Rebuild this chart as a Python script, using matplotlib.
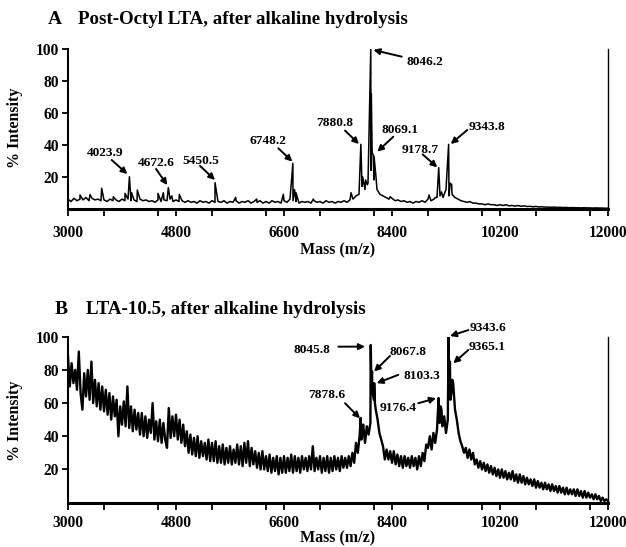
import numpy as np
import matplotlib
matplotlib.use('Agg')
import matplotlib.pyplot as plt
from matplotlib.ticker import MultipleLocator, FixedLocator

plt.rcParams['font.family'] = ['Liberation Serif', 'DejaVu Serif']
plt.rcParams['font.weight'] = 'bold'

# ---- panel A: baseline every 50 Da from 3000, plus peaks
a_start, a_step = 3000, 50
a_base = [
    6, 4.5, 6.5, 5, 6, 5.5, 7, 5, 6.5, 5.5, 6, 5, 5.5, 4.5, 6, 5, 5.5, 4.5, 6, 5,
    6, 5, 5.5, 4.5, 6, 5, 5.5, 4.5, 5, 4, 5.5, 4.5, 5.5, 5, 6, 4.5, 5.5, 4.5, 5, 4,
    5, 4, 4.5, 3.5, 5, 4, 4.5, 3.5, 5, 4, 4.5, 4, 5, 3.5, 4.5, 4, 5, 3.5, 4.5, 4,
    5, 3.5, 4.5, 4, 5, 3.5, 4.5, 3.5, 5, 4, 4.5, 3.5, 5, 4, 6, 5, 4.5, 3.5, 4.5, 4,
    4.5, 3.5, 5, 4, 4.5, 3.5, 5, 4, 4.5, 3.5, 4.5, 4, 5, 4, 5.5, 6, 8, 9, 14, 12,
    16, 24, 18, 12, 9, 8, 7, 6, 6.5, 5, 5.5, 4.5, 5, 4, 4.5, 3.5, 4.5, 4, 5, 4,
    6, 5, 6, 7, 8, 7, 12, 8, 9, 7, 6, 5, 4.5, 4, 4.5, 3.5, 3.5, 3, 3, 2.5,
    3, 2.5, 2.5, 2, 2.5, 2, 2.5, 1.8, 2, 1.6, 2, 1.5, 1.8, 1.4, 1.5, 1.2, 1.4, 1.1, 1.2, 1,
    1, 0.9, 1, 0.8, 0.9, 0.7, 0.8, 0.6, 0.7, 0.6, 0.6, 0.5, 0.6, 0.5, 0.5, 0.4, 0.5, 0.4, 0.4, 0.3,
    0.3,
]
a_pk_mass = [3200, 3367, 3561, 3755, 3950, 4023.9, 4060, 4155, 4500, 4589, 4672.6, 4730,
             4855, 5450.5, 5795, 6145, 6589, 6748.2, 6775, 6800, 7089, 7717, 7880.8,
             7910, 7960, 7990, 8046.2, 8055, 8069.1, 8085, 8100, 8133, 8370, 9017, 9120,
             9178.7, 9225, 9343.8, 9370, 9395, 9700]
a_pk_int = [8.6, 8.9, 12.8, 7.5, 9.6, 20, 10, 11.7, 9.6, 10, 13.2, 8,
            8.9, 16.3, 7.1, 6, 9, 28.4, 12, 10, 6, 10, 40.3,
            20, 18, 15, 100, 72, 35, 34, 33, 20, 7.5, 8.6, 7,
            25.7, 10.5, 40.3, 16, 15, 4.4]

# ---- panel B: baseline every 30 Da from 3000, plus peaks
b_start, b_step = 3000, 30
b_base = [
    88, 70, 84, 72, 80, 68, 91, 66, 56, 78, 64, 80, 62, 85, 60, 74, 58, 72, 56, 70,
    55, 68, 53, 66, 50, 64, 52, 62, 40, 58, 47, 61, 46, 70, 45, 58, 43, 56, 44, 54,
    41, 54, 40, 52, 39, 50, 42, 60, 38, 49, 37, 50, 36, 48, 38, 33, 57, 39, 52, 40,
    53, 38, 50, 36, 47, 34, 43, 30, 41, 29, 39, 28, 40, 27, 37, 28, 36, 26, 38, 25,
    36, 25, 37, 24, 34, 24, 35, 23, 33, 24, 34, 23, 32, 24, 35, 23, 34, 22, 36, 24,
    37, 22, 33, 23, 31, 21, 30, 20, 31, 20, 28, 19, 29, 18, 27, 19, 28, 17, 27, 18,
    28, 18, 27, 19, 29, 18, 28, 19, 27, 18, 28, 20, 27, 19, 28, 20, 34, 19, 27, 20,
    28, 18, 27, 19, 28, 18, 27, 19, 28, 20, 27, 19, 28, 21, 27, 21, 28, 22, 30, 24,
    36, 30, 40, 38, 47, 36, 46, 41, 48, 66, 62, 56, 50, 42, 38, 34, 26, 32, 26, 31,
    24, 31, 23, 29, 22, 28, 21, 28, 22, 27, 21, 28, 22, 27, 20, 28, 22, 30, 25, 35,
    33, 40, 32, 42, 36, 44, 50, 58, 46, 52, 42, 50, 75, 66, 72, 56, 50, 42, 37, 34,
    30, 33, 27, 32, 26, 30, 23, 26, 21, 25, 20, 24, 19, 23, 18, 22, 17, 21, 16, 20,
    15, 20, 15, 19, 14, 18, 14, 19, 13, 17, 12, 17, 12, 16, 11, 15, 11, 14, 10, 14,
    9, 13, 9, 12, 8, 12, 8, 11, 7, 11, 7, 10, 6, 10, 6, 9, 5, 9, 5, 8,
    5, 8, 4, 8, 4, 7, 3, 7, 3, 6, 3, 5, 2, 5, 2, 4, 1, 3, 1, 2,
    1,
]
b_pk_mass = [7878.6, 7905, 8045.8, 8055, 8067.8, 8085, 8103.3, 8115,
             9176.4, 9195, 9225, 9343.6, 9352, 9365.1, 9375, 9405]
b_pk_int = [51, 44, 95, 74, 79, 65, 72, 60,
            63, 48, 56, 100, 70, 85, 62, 74]

xticks_major = [3000, 4800, 6600, 8400, 10200, 12000]

# label, text centre, arrow tail, arrow head (data coords)
ann_a = [
    ("4023.9", (3617, 34.7), (3728, 30.5), (3989, 21.7)),
    ("4672.6", (4467, 28.8), (4467, 24.9), (4655, 14.8)),
    ("5450.5", (5211, 29.9), (5200, 26.8), (5450, 18.0)),
    ("6748.2", (6339, 42.6), (6506, 37.8), (6739, 29.5)),
    ("7880.8", (7450, 53.9), (7617, 48.9), (7850, 40.5)),
    ("8046.2", (8950, 91.7), (8562, 95.2), (8090, 99.4)),
    ("8069.1", (8533, 49.3), (8422, 45.1), (8155, 35.7)),
    ("9178.7", (8867, 36.8), (8911, 34.0), (9155, 25.9)),
    ("9343.8", (9978, 51.0), (9655, 49.3), (9378, 40.5)),
]
ann_b = [
    ("8045.8", (7061, 92.0), (7506, 94.0), (7950, 94.0)),
    ("8067.8", (8672, 91.0), (8367, 88.4), (8100, 79.0)),
    ("8103.3", (8895, 76.3), (8505, 77.0), (8145, 72.0)),
    ("7878.6", (7311, 64.9), (7617, 59.9), (7867, 50.8)),
    ("9176.4", (8505, 56.8), (8839, 59.9), (9133, 62.9)),
    ("9343.6", (10005, 105.0), (9672, 104.0), (9367, 100.4)),
    ("9365.1", (9989, 93.6), (9672, 92.0), (9422, 84.0)),
]


def spectrum(start, step, base, pk_mass, pk_int):
    m = np.concatenate([start + step * np.arange(len(base)), pk_mass])
    v = np.concatenate([base, pk_int])
    o = np.argsort(m, kind='stable')
    return m[o], v[o]


def style_axes(ax, pad):
    ax.set_xlim(3000, 12000)
    ax.set_ylim(0, 100)
    ax.xaxis.set_major_locator(FixedLocator(xticks_major))
    ax.xaxis.set_minor_locator(MultipleLocator(900))
    ax.set_yticks([20, 40, 60, 80, 100])
    ax.spines['top'].set_visible(False)
    ax.spines['bottom'].set_linewidth(2.2)
    ax.spines['left'].set_linewidth(1.5)
    ax.spines['right'].set_linewidth(1.0)
    ax.tick_params(axis='x', which='both', direction='out', length=5, width=1.3,
                   labelsize=11.2, pad=pad)
    ax.tick_params(axis='y', direction='out', length=4.5, width=1.3, labelsize=11.2, pad=2)
    ax.tick_params(axis='y', which='minor', left=False)
    for lab in ax.get_xticklabels() + ax.get_yticklabels():
        lab.set_fontweight('bold')


def annotate(ax, items):
    for label, txt, tail, head in items:
        ax.text(txt[0], txt[1], label, ha='center', va='center', fontsize=9.6,
                fontweight='bold', clip_on=False)
        ax.annotate('', xy=head, xytext=tail, annotation_clip=False,
                    arrowprops=dict(arrowstyle='-|>', color='k', lw=1.4,
                                    mutation_scale=9, shrinkA=0, shrinkB=0))


fig = plt.figure(figsize=(6.26, 5.47), dpi=100)
W, H = 626, 547
axA = fig.add_axes([68 / W, (H - 208.7) / H, 540 / W, 159.7 / H])
axB = fig.add_axes([68 / W, (H - 502.6) / H, 540 / W, 165.9 / H])

mA, vA = spectrum(a_start, a_step, a_base, a_pk_mass, a_pk_int)
axA.plot(mA, vA, color='black', lw=1.1)
mB, vB = spectrum(b_start, b_step, b_base, b_pk_mass, b_pk_int)
axB.plot(mB, vB, color='black', lw=1.7)

style_axes(axA, 6.5)
style_axes(axB, 4)
annotate(axA, ann_a)
annotate(axB, ann_b)

fig.text(48 / W, 1 - 20 / H, "A", fontsize=14, fontweight='bold', va='center')
fig.text(78 / W, 1 - 20 / H, "Post-Octyl LTA, after alkaline hydrolysis",
         fontsize=13.6, fontweight='bold', va='center')
fig.text(55 / W, 1 - 310 / H, "B", fontsize=14, fontweight='bold', va='center')
fig.text(86 / W, 1 - 310 / H, "LTA-10.5, after alkaline hydrolysis",
         fontsize=13.6, fontweight='bold', va='center')

for yc in (128, 421):
    fig.text(15 / W, 1 - yc / H, "% Intensity", rotation=90, fontsize=11.5,
             fontweight='bold', ha='center', va='center')
for yc in (250, 538):
    fig.text(338 / W, 1 - yc / H, "Mass (m/z)", fontsize=11.5, fontweight='bold',
             ha='center', va='center')

fig.savefig('out.png', dpi=100)
